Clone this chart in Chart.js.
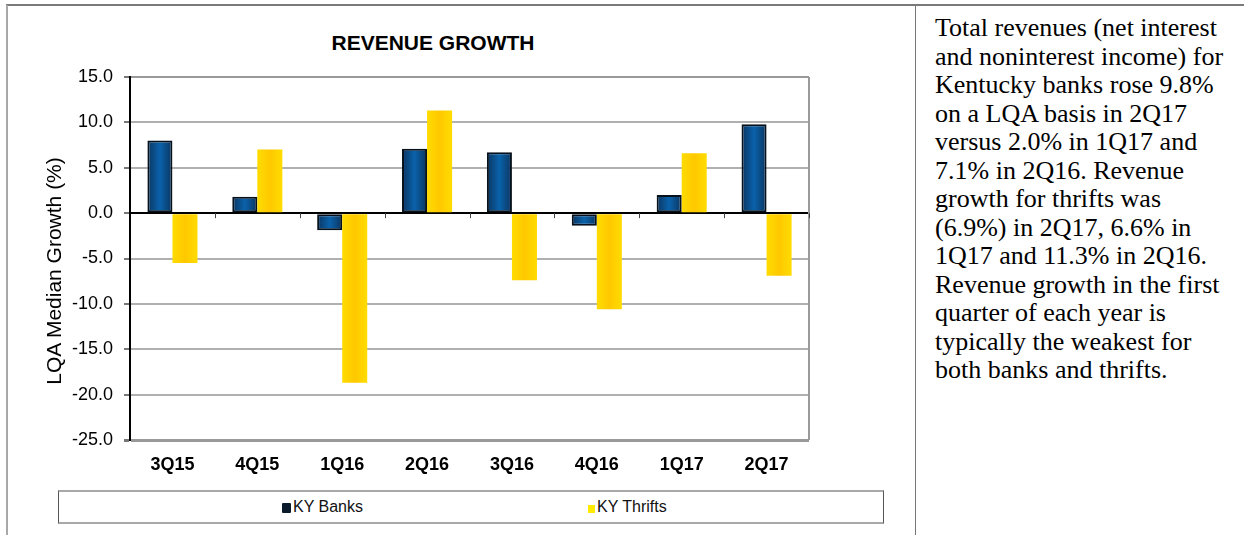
<!DOCTYPE html>
<html>
<head>
<meta charset="utf-8">
<title>Revenue Growth</title>
<script src="https://cdn.jsdelivr.net/npm/chart.js@4"></script>
<style>
  html, body { margin: 0; padding: 0; background: #fff; }
  body { width: 1244px; height: 535px; position: relative; overflow: hidden; font-family: Arial, "Liberation Sans", sans-serif; }
  .line { position: absolute; }
  #topLine { left: 6px; top: 4px; width: 1238px; height: 2px; background: #7a7a7a; }
  #leftLine { left: 6px; top: 5px; width: 2px; height: 530px; background: #a8a8a8; }
  #divLine { left: 915px; top: 5px; width: 1px; height: 530px; background: #777; }
  #chartWrap { position: absolute; left: 0; top: 0; width: 915px; height: 480px; }
  #chartTitle { position: absolute; left: 233px; top: 31px; width: 400px; text-align: center;
    font-size: 21px; font-weight: bold; line-height: 24px; color: #000; }
  #yTitle { position: absolute; left: -96px; top: 259px; width: 300px; height: 24px; line-height: 24px;
    text-align: center; font-size: 21px; color: #000; transform: rotate(-90deg); white-space: nowrap; }
  #legend { position: absolute; left: 58px; top: 490px; width: 824px; height: 30px;
    border-top: 2px solid #a8a8a8; border-bottom: 2px solid #a8a8a8;
    border-left: 1px solid #555; border-right: 1px solid #555; font-size: 16px; color: #111; }
  .lg { position: absolute; top: 5px; line-height: 20px; white-space: nowrap; }
  .lg i { display: inline-block; vertical-align: -1px; margin-right: 2px; }
  #notes { position: absolute; left: 935px; top: 14px; font-family: "Times New Roman", "Liberation Serif", serif;
    font-size: 26px; line-height: 28.5px; color: #000; white-space: nowrap; }
</style>
</head>
<body>
<div class="line" id="topLine"></div>
<div class="line" id="leftLine"></div>
<div class="line" id="divLine"></div>

<div id="chartTitle">REVENUE GROWTH</div>
<div id="chartWrap"><canvas id="revChart"></canvas></div>
<div id="yTitle">LQA Median Growth (%)</div>

<div id="legend">
  <span class="lg" style="left:223px"><i style="width:9px;height:10px;background:#0b1a2b;border-radius:1px"></i>KY Banks</span>
  <span class="lg" style="left:529px"><i style="width:7px;height:8px;background:#ffea00"></i>KY Thrifts</span>
</div>

<div id="notes">
Total revenues (net interest<br>
and noninterest income) for<br>
Kentucky banks rose 9.8%<br>
on a LQA basis in 2Q17<br>
versus 2.0% in 1Q17 and<br>
7.1% in 2Q16. Revenue<br>
growth for thrifts was<br>
(6.9%) in 2Q17, 6.6% in<br>
1Q17 and 11.3% in 2Q16.<br>
Revenue growth in the first<br>
quarter of each year is<br>
typically the weakest for<br>
both banks and thrifts.
</div>

<script>
// Chart data
var categories = ['3Q15', '4Q15', '1Q16', '2Q16', '3Q16', '4Q16', '1Q17', '2Q17'];
var kyBanks = [8.0, 1.8, -1.9, 7.1, 6.7, -1.4, 2.0, 9.8];
var kyThrifts = [-5.5, 7.0, -18.7, 11.3, -7.4, -10.6, 6.6, -6.9];
var yTicks = [15, 10, 5, 0, -5, -10, -15, -20, -25];

var CAT_PCT = 0.59;

// horizontal gradient across one bar (darker/lighter edges, saturated middle)
function barFill(context, edge, mid) {
  var chart = context.chart;
  var area = chart.chartArea;
  if (!area || context.dataIndex === undefined || !chart.scales.x) return mid;
  var step = (area.right - area.left) / categories.length;
  var w = step * CAT_PCT / 2;
  var cx = chart.scales.x.getPixelForValue(context.dataIndex) + (context.datasetIndex === 0 ? -w / 2 : w / 2);
  var g = chart.ctx.createLinearGradient(cx - w / 2, 0, cx + w / 2, 0);
  g.addColorStop(0, edge);
  g.addColorStop(0.5, mid);
  g.addColorStop(1, edge);
  return g;
}

// right frame edge + little ticks under the zero line
var frameLines = {
  id: 'frameLines',
  beforeDatasetsDraw: function (chart) {
    var a = chart.chartArea;
    var ctx = chart.ctx;
    var y0 = chart.scales.y.getPixelForValue(0);
    ctx.save();
    ctx.strokeStyle = '#9a9a9a';
    ctx.lineWidth = 2;
    ctx.beginPath();
    ctx.moveTo(a.right, a.top);
    ctx.lineTo(a.right, a.bottom);
    ctx.stroke();
    ctx.strokeStyle = '#444';
    ctx.lineWidth = 1;
    var step = (a.right - a.left) / categories.length;
    ctx.beginPath();
    for (var i = 1; i <= categories.length; i++) {
      var px = Math.round(a.left + step * i) + 0.5;
      ctx.moveTo(px, y0);
      ctx.lineTo(px, y0 + 5);
    }
    ctx.stroke();
    ctx.restore();
  }
};

Chart.defaults.font.family = 'Arial, "Liberation Sans", sans-serif';
Chart.defaults.color = '#000';

new Chart(document.getElementById('revChart').getContext('2d'), {
  type: 'bar',
  data: {
    labels: categories,
    datasets: [
      {
        label: 'KY Banks',
        data: kyBanks,
        backgroundColor: function (c) { return barFill(c, '#0b3560', '#0a62ab'); },
        borderColor: '#07111c',
        borderWidth: 2,
        borderSkipped: false,
        categoryPercentage: CAT_PCT,
        barPercentage: 1
      },
      {
        label: 'KY Thrifts',
        data: kyThrifts,
        backgroundColor: function (c) { return barFill(c, '#ffdc00', '#ffc800'); },
        borderWidth: 0,
        categoryPercentage: CAT_PCT,
        barPercentage: 1
      }
    ]
  },
  options: {
    responsive: true,
    maintainAspectRatio: false,
    animation: false,
    layout: { padding: { top: 77, right: 106, left: 0, bottom: 0 } },
    plugins: { legend: { display: false }, title: { display: false }, tooltip: { enabled: false } },
    scales: {
      x: {
        grid: { display: false, drawTicks: false },
        border: { display: false },
        ticks: { font: { size: 18, weight: 'bold' }, padding: 14, color: '#000' },
        afterFit: function (s) { s.height = 40; }
      },
      y: {
        min: -25,
        max: 15,
        afterBuildTicks: function (s) { s.ticks = yTicks.map(function (v) { return { value: v }; }); },
        ticks: {
          font: { size: 18 },
          padding: 11,
          color: '#000',
          callback: function (v) { return Number(v).toFixed(1); }
        },
        grid: {
          color: function (c) {
            var v = c.tick && c.tick.value;
            if (v === 0) return '#000';
            if (v === 15 || v === -25) return '#999';
            return '#b0b0b0';
          },
          lineWidth: function (c) {
            var v = c.tick && c.tick.value;
            return v === -25 ? 3 : 2;
          },
          drawTicks: true,
          tickLength: 6,
          tickColor: '#777'
        },
        border: { display: true, color: '#000', width: 2 },
        afterFit: function (s) { s.width = 130; }
      }
    }
  },
  plugins: [frameLines]
});
</script>
</body>
</html>
